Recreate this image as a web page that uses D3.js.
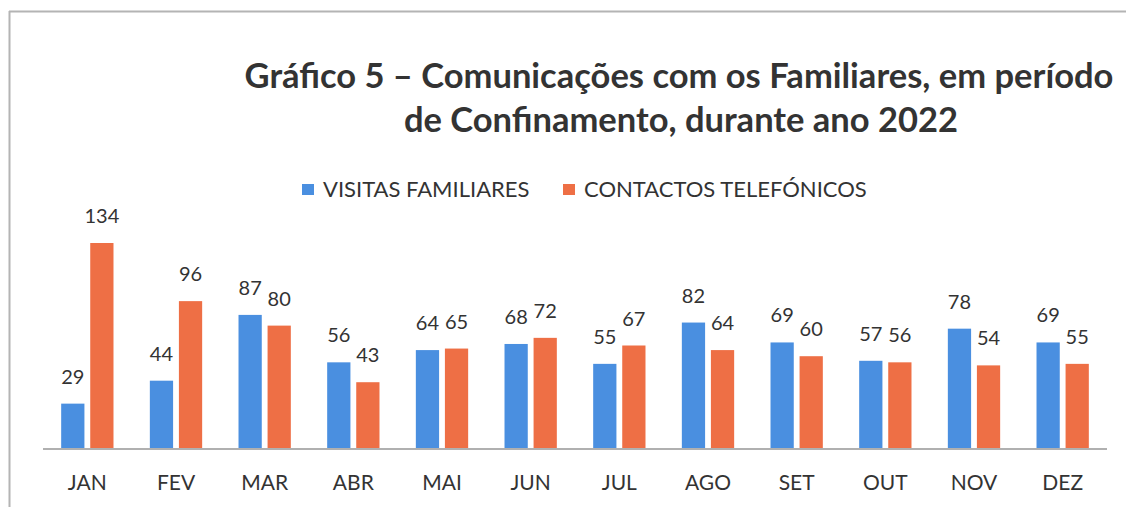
<!DOCTYPE html>
<html>
<head>
<meta charset="utf-8">
<script src="https://cdn.jsdelivr.net/npm/d3@7"></script>
<style>
  body { margin: 0; background: #fff; }
  text { font-family: Lato, "Open Sans", sans-serif; fill: #333; }
</style>
</head>
<body>
<div id="svg-area"></div>
<script>
var svgWidth = 1126;
var svgHeight = 507;

// data
var months = ["JAN", "FEV", "MAR", "ABR", "MAI", "JUN", "JUL", "AGO", "SET", "OUT", "NOV", "DEZ"];
var visitas = [29, 44, 87, 56, 64, 68, 55, 82, 69, 57, 78, 69];
var contactos = [134, 96, 80, 43, 65, 72, 67, 64, 60, 56, 54, 55];
var seriesNames = ["VISITAS FAMILIARES", "CONTACTOS TELEFÓNICOS"];
var colors = ["#4a8fe0", "#ee6f45"];

var svg = d3.select("#svg-area")
  .append("svg")
  .attr("width", svgWidth)
  .attr("height", svgHeight);

// scanned frame edges
svg.append("line")
  .attr("x1", 9).attr("x2", svgWidth).attr("y1", 11.5).attr("y2", 11.5)
  .attr("stroke", "#b4b4b4").attr("stroke-width", 2);
svg.append("line")
  .attr("x1", 9.5).attr("x2", 9.5).attr("y1", 11).attr("y2", svgHeight)
  .attr("stroke", "#b4b4b4").attr("stroke-width", 2);

// title
var title = svg.append("text")
  .attr("text-anchor", "middle")
  .style("font-weight", "bold")
  .style("font-size", "34.5px");
title.append("tspan").attr("x", 679).attr("y", 88)
  .text("Gráfico 5 – Comunicações com os Familiares, em período");
title.append("tspan").attr("x", 681).attr("y", 132)
  .text("de Confinamento, durante ano 2022");

// legend
var legendX = [302, 563];
seriesNames.forEach(function(name, i) {
  svg.append("rect")
    .attr("x", legendX[i]).attr("y", 184)
    .attr("width", 12).attr("height", 11)
    .attr("fill", colors[i]);
  svg.append("text")
    .attr("x", legendX[i] + 21).attr("y", 197)
    .style("font-size", "22px")
    .text(name);
});

var data = months.map(function(m, i) {
  return { month: m, values: [visitas[i], contactos[i]] };
});

var x0 = d3.scaleBand()
  .domain(months)
  .range([43, 1107])
  .paddingInner(0.41)
  .paddingOuter(0.205);

var x1 = d3.scaleBand()
  .domain([0, 1])
  .range([0, x0.bandwidth()])
  .paddingInner(0.2);

var yScale = d3.scaleLinear()
  .domain([0, 134])
  .range([448, 243]);

var groups = svg.selectAll(".group")
  .data(data)
  .enter()
  .append("g")
  .attr("transform", d => "translate(" + x0(d.month) + ",0)");

groups.selectAll("rect")
  .data(d => d.values)
  .enter()
  .append("rect")
  .attr("x", (d, i) => x1(i))
  .attr("width", x1.bandwidth())
  .attr("y", d => yScale(d))
  .attr("height", d => yScale(0) - yScale(d))
  .attr("fill", (d, i) => colors[i]);

groups.selectAll(".lbl")
  .data(d => d.values)
  .enter()
  .append("text")
  .attr("class", "lbl")
  .attr("x", (d, i) => x1(i) + x1.bandwidth() / 2)
  .attr("y", d => yScale(d) - 20)
  .attr("text-anchor", "middle")
  .style("font-size", "20px")
  .text(d => d);

// baseline
svg.append("line")
  .attr("x1", 43).attr("x2", 1107)
  .attr("y1", yScale(0) + 1).attr("y2", yScale(0) + 1)
  .attr("stroke", "#b0b0b0").attr("stroke-width", 2);

// month labels
var xAxis = d3.axisBottom(x0).tickSize(0).tickPadding(0);
var axisG = svg.append("g")
  .attr("transform", "translate(0," + 473 + ")")
  .call(xAxis);
axisG.select(".domain").remove();
axisG.selectAll("text")
  .attr("dy", "0.8em")
  .style("font-size", "21px")
  .style("font-family", "Lato, 'Open Sans', sans-serif")
  .attr("fill", "#333");
</script>
</body>
</html>
